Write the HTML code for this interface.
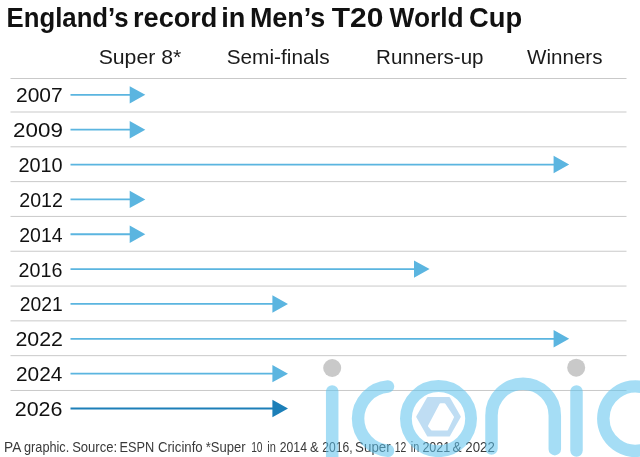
<!DOCTYPE html>
<html><head><meta charset="utf-8">
<style>
html,body{margin:0;padding:0;background:#fff;}
body{width:640px;height:457px;overflow:hidden;}
svg{display:block;will-change:transform;font-family:"Liberation Sans",sans-serif;}
</style></head><body>
<svg width="640" height="457" viewBox="0 0 640 457">
<rect width="640" height="457" fill="#fff"/>
<g font-size="27" font-weight="bold" fill="#111">
<text x="6.51" y="26.50" textLength="122.13" lengthAdjust="spacingAndGlyphs">England’s</text>
<text x="133.09" y="26.50" textLength="84.28" lengthAdjust="spacingAndGlyphs">record</text>
<text x="221.29" y="26.50" textLength="24.14" lengthAdjust="spacingAndGlyphs">in</text>
<text x="249.93" y="26.50" textLength="75.33" lengthAdjust="spacingAndGlyphs">Men’s</text>
<text x="331.69" y="26.50" textLength="51.67" lengthAdjust="spacingAndGlyphs">T20</text>
<text x="389.59" y="26.50" textLength="74.09" lengthAdjust="spacingAndGlyphs">World</text>
<text x="469.02" y="26.50" textLength="53.08" lengthAdjust="spacingAndGlyphs">Cup</text>
</g>
<g font-size="19.8" fill="#1a1a1a">
<text x="98.65" y="64.40" textLength="82.60" lengthAdjust="spacingAndGlyphs">Super 8*</text>
<text x="226.67" y="64.40" textLength="102.94" lengthAdjust="spacingAndGlyphs">Semi-finals</text>
<text x="376.06" y="64.40" textLength="107.48" lengthAdjust="spacingAndGlyphs">Runners-up</text>
<text x="527.03" y="64.40" textLength="75.49" lengthAdjust="spacingAndGlyphs">Winners</text>
</g>
<g stroke="#c9c9c9" stroke-width="1">
<line x1="10.5" x2="626.5" y1="78.50" y2="78.50"/>
<line x1="10.5" x2="626.5" y1="112.00" y2="112.00"/>
<line x1="10.5" x2="626.5" y1="146.81" y2="146.81"/>
<line x1="10.5" x2="626.5" y1="181.62" y2="181.62"/>
<line x1="10.5" x2="626.5" y1="216.43" y2="216.43"/>
<line x1="10.5" x2="626.5" y1="251.24" y2="251.24"/>
<line x1="10.5" x2="626.5" y1="286.05" y2="286.05"/>
<line x1="10.5" x2="626.5" y1="320.86" y2="320.86"/>
<line x1="10.5" x2="626.5" y1="355.67" y2="355.67"/>
<line x1="10.5" x2="626.5" y1="390.48" y2="390.48"/>
</g>
<g font-size="20.5" fill="#111">
<text x="15.99" y="102.40" textLength="46.72" lengthAdjust="spacingAndGlyphs">2007</text>
<text x="13.03" y="137.23" textLength="49.84" lengthAdjust="spacingAndGlyphs">2009</text>
<text x="18.38" y="172.06" textLength="44.28" lengthAdjust="spacingAndGlyphs">2010</text>
<text x="19.28" y="206.89" textLength="43.62" lengthAdjust="spacingAndGlyphs">2012</text>
<text x="19.32" y="241.72" textLength="43.25" lengthAdjust="spacingAndGlyphs">2014</text>
<text x="18.62" y="276.55" textLength="43.77" lengthAdjust="spacingAndGlyphs">2016</text>
<text x="19.87" y="311.38" textLength="42.94" lengthAdjust="spacingAndGlyphs">2021</text>
<text x="15.41" y="346.21" textLength="47.58" lengthAdjust="spacingAndGlyphs">2022</text>
<text x="16.02" y="381.04" textLength="46.38" lengthAdjust="spacingAndGlyphs">2024</text>
<text x="14.75" y="415.87" textLength="47.73" lengthAdjust="spacingAndGlyphs">2026</text>
</g>
<g id="arrows" fill="#5bb5e0" stroke="none">
<path d="M70.5 93.95H129.7V86.15L145.3 94.85L129.7 103.55V95.75H70.5Z"/>
<path d="M70.5 128.80H129.7V121.00L145.3 129.70L129.7 138.40V130.60H70.5Z"/>
<path d="M70.5 163.65H553.6V155.85L569.2 164.55L553.6 173.25V165.45H70.5Z"/>
<path d="M70.5 198.50H129.7V190.70L145.3 199.40L129.7 208.10V200.30H70.5Z"/>
<path d="M70.5 233.35H129.7V225.55L145.3 234.25L129.7 242.95V235.15H70.5Z"/>
<path d="M70.5 268.20H414.0V260.40L429.6 269.10L414.0 277.80V270.00H70.5Z"/>
<path d="M70.5 303.05H272.4V295.25L288.0 303.95L272.4 312.65V304.85H70.5Z"/>
<path d="M70.5 337.90H553.6V330.10L569.2 338.80L553.6 347.50V339.70H70.5Z"/>
<path d="M70.5 372.75H272.4V364.95L288.0 373.65L272.4 382.35V374.55H70.5Z"/>
<path fill="#1c7fb8" d="M70.5 407.60H272.4V399.80L288.0 408.50L272.4 417.20V409.40H70.5Z"/>
</g>
<g font-size="15" fill="#3a3a3a">
<text x="4.03" y="451.70" textLength="17.25" lengthAdjust="spacingAndGlyphs">PA</text>
<text x="24.02" y="451.70" textLength="45.23" lengthAdjust="spacingAndGlyphs">graphic.</text>
<text x="72.15" y="451.70" textLength="45.00" lengthAdjust="spacingAndGlyphs">Source:</text>
<text x="119.55" y="451.70" textLength="34.80" lengthAdjust="spacingAndGlyphs">ESPN</text>
<text x="157.93" y="451.70" textLength="44.74" lengthAdjust="spacingAndGlyphs">Cricinfo</text>
<text x="205.81" y="451.70" textLength="39.88" lengthAdjust="spacingAndGlyphs">*Super</text>
<text x="251.15" y="451.70" textLength="11.39" lengthAdjust="spacingAndGlyphs">10</text>
<text x="267.18" y="451.70" textLength="8.60" lengthAdjust="spacingAndGlyphs">in</text>
<text x="279.83" y="451.70" textLength="27.09" lengthAdjust="spacingAndGlyphs">2014</text>
<text x="310.09" y="451.70" textLength="8.63" lengthAdjust="spacingAndGlyphs">&amp;</text>
<text x="322.37" y="451.70" textLength="30.29" lengthAdjust="spacingAndGlyphs">2016,</text>
<text x="355.10" y="451.70" textLength="35.54" lengthAdjust="spacingAndGlyphs">Super</text>
<text x="394.84" y="451.70" textLength="11.56" lengthAdjust="spacingAndGlyphs">12</text>
<text x="410.74" y="451.70" textLength="8.42" lengthAdjust="spacingAndGlyphs">in</text>
<text x="422.40" y="451.70" textLength="27.91" lengthAdjust="spacingAndGlyphs">2021</text>
<text x="452.47" y="451.70" textLength="9.08" lengthAdjust="spacingAndGlyphs">&amp;</text>
<text x="465.29" y="451.70" textLength="29.50" lengthAdjust="spacingAndGlyphs">2022</text>
</g>
<g id="wm" opacity="0.55">
<g fill="none" stroke="#5cc3ee" stroke-width="12.5" stroke-linecap="round">
<line x1="332.2" y1="391.4" x2="332.2" y2="470"/>
<path d="M388 386.48A32.2 32.2 0 0 0 388 450.72"/>
<circle cx="438.5" cy="418.6" r="32.6" stroke-width="11.8"/>
<path d="M491.5 448.5V415.4A31.65 31.65 0 0 1 554.8 415.4V449.2"/>
<line x1="576.5" y1="391.4" x2="576.5" y2="450.5"/>
<path d="M645 387.83A32.2 32.2 0 1 0 645 449.37"/>
</g>
</g>
<circle cx="332.2" cy="368" r="9" fill="#c9c9c9"/>
<circle cx="576.2" cy="367.7" r="9" fill="#c9c9c9"/>
<g opacity="0.6">
<path d="M427.9 398H449.1L459.8 416.8L449.1 435.6H427.9L417.2 416.8Z" fill="#96c8ec" stroke="#96c8ec" stroke-width="2" stroke-linejoin="round"/>
</g>
<path d="M440.5 404.2H444.5L453 417L447 429.6H432L429 426Z" fill="#fff" stroke="#fff" stroke-width="2" stroke-linejoin="round"/>
</svg>
</body></html>
